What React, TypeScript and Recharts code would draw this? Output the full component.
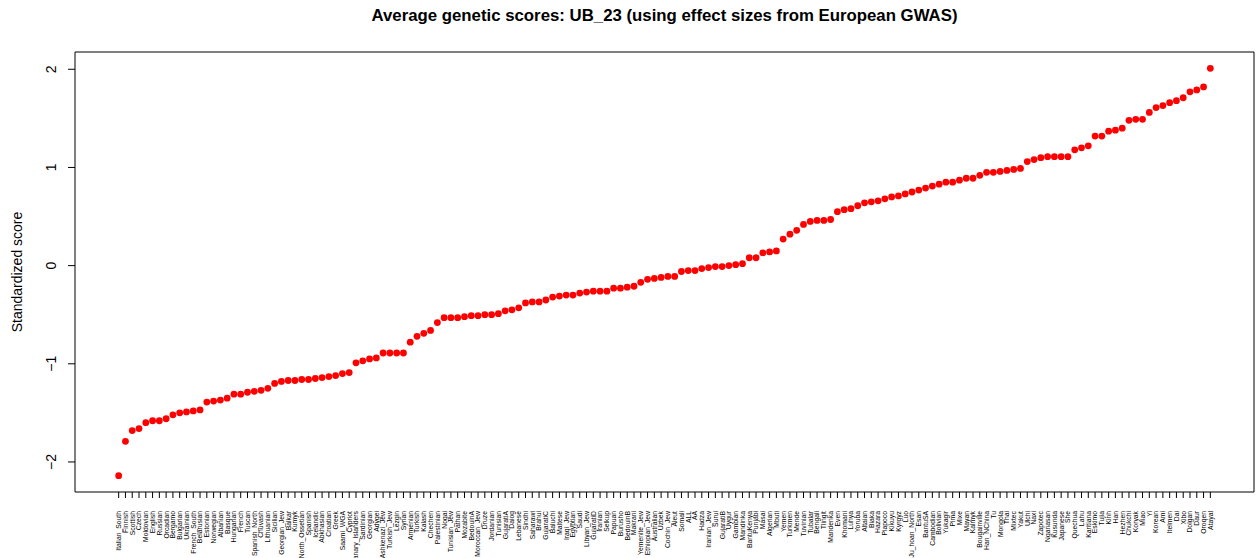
import React from 'react';
import { ScatterChart, Scatter, XAxis, YAxis, ReferenceArea } from 'recharts';

// population order as on the x axis (sorted by score)
const populations = [
  'Italian_South', 'Finnish', 'Scottish', 'Czech', 'Moldovian', 'English', 'Russian', 'Orcadian', 'Bergamo', 'Bulgarian',
  'Ukrainian', 'French_South', 'Belarusian', 'Estonian', 'Norwegian', 'Albanian', 'Basque', 'Hungarian', 'French', 'Tuscan',
  'Spanish_North', 'Chuvash', 'Lithuanian', 'Sicilian', 'Georgian_Jew', 'Balkar', 'Kumyk', 'North_Ossetian', 'Spanish', 'Icelandic',
  'Abkhasian', 'Croatian', 'Greek', 'Saami_WGA', 'Cypriot', 'Canary_Islanders', 'Sardinian', 'Georgian', 'Adygei', 'Ashkenazi_Jew',
  'Turkish_Jew', 'Lezgin', 'Syrian', 'Armenian', 'Turkish', 'Kalash', 'Chechen', 'Palestinian', 'Nogai', 'Tunisian_Jew',
  'Pathan', 'Mozabite', 'BedouinA', 'Moroccan_Jew', 'Druze', 'Jordanian', 'Tunisian', 'GujaratiA', 'Daiog', 'Lebanese',
  'Sindhi', 'Saharawi', 'Brahui', 'GujaratiC', 'Baluchi', 'Maltese', 'Iraqi_Jew', 'Egyptian', 'Saudi', 'Libyan_Jew',
  'GujaratiD', 'Iranian', 'Selkup', 'Papuan', 'Burusho', 'BedouinB', 'Makrani', 'Yemenite_Jew', 'Ethiopian_Jew', 'Australian',
  'Uzbek', 'Cochin_Jew', 'Aleut', 'Somali', 'ALL', 'AA', 'Hadza', 'Iranian_Jew', 'Surui', 'GujaratiB',
  'Uygur', 'Gambian', 'Mandinka', 'BantuKenya', 'Punjabi', 'Masai', 'Algerian', 'Mbuti', 'Yemen', 'Turkmen',
  'Mende', 'Tuvinian', 'Tubalar', 'Bengali', 'Tlingit', 'Mandenka', 'Even', 'Khomani', 'Luhya', 'Yoruba',
  'Altaian', 'Biaka', 'Hazara', 'Piapoco', 'Kikuyu', 'Kyrgyz', 'Luo', 'Ju_hoan_North', 'Esan', 'BantuSA',
  'Cambodian', 'Bolivian', 'Yukagir', 'Pima', 'Mixe', 'Mayan', 'Kalmyk', 'Bougainville', 'Han_NChina', 'Tu',
  'Mongola', 'Thai', 'Mixtec', 'Yakut', 'Ulchi', 'Naxi', 'Zapotec', 'Nganasan', 'Kusunda', 'Japanese',
  'She', 'Quechua', 'Lahu', 'Karitiana', 'Eskimo', 'Tujia', 'Kinh', 'Han', 'Hezhen', 'Chukchi',
  'Koryak', 'Miao', 'Yi', 'Korean', 'Ami', 'Itelmen', 'Dai', 'Xibo', 'Dolgan', 'Daur',
  'Oroqen', 'Atayal',
];

const scores = [
  -2.14, -1.79, -1.68, -1.66, -1.60, -1.58, -1.58, -1.56, -1.52, -1.50,
  -1.49, -1.48, -1.47, -1.39, -1.38, -1.37, -1.35, -1.31, -1.31, -1.29,
  -1.28, -1.27, -1.25, -1.20, -1.18, -1.17, -1.17, -1.16, -1.16, -1.15,
  -1.14, -1.13, -1.12, -1.10, -1.09, -0.99, -0.97, -0.95, -0.94, -0.89,
  -0.89, -0.89, -0.89, -0.78, -0.72, -0.69, -0.66, -0.58, -0.53, -0.53,
  -0.53, -0.52, -0.51, -0.51, -0.50, -0.50, -0.49, -0.46, -0.45, -0.43,
  -0.38, -0.37, -0.37, -0.35, -0.32, -0.31, -0.30, -0.30, -0.28, -0.27,
  -0.26, -0.26, -0.26, -0.23, -0.23, -0.22, -0.21, -0.17, -0.14, -0.13,
  -0.12, -0.11, -0.11, -0.06, -0.05, -0.05, -0.03, -0.02, -0.01, -0.01,
  0.00, 0.01, 0.02, 0.08, 0.08, 0.13, 0.14, 0.15, 0.27, 0.32,
  0.36, 0.42, 0.45, 0.46, 0.46, 0.47, 0.55, 0.57, 0.58, 0.61,
  0.64, 0.65, 0.66, 0.68, 0.70, 0.71, 0.73, 0.75, 0.77, 0.79,
  0.81, 0.83, 0.85, 0.85, 0.87, 0.89, 0.89, 0.92, 0.95, 0.95,
  0.96, 0.97, 0.98, 0.99, 1.06, 1.08, 1.10, 1.11, 1.11, 1.11,
  1.11, 1.18, 1.20, 1.22, 1.32, 1.32, 1.37, 1.38, 1.40, 1.48,
  1.49, 1.49, 1.56, 1.61, 1.63, 1.66, 1.68, 1.71, 1.77, 1.79,
  1.82, 2.01,
];

const yTicks = [-2, -1, 0, 1, 2];

const data = populations.map((name, i) => ({ idx: i + 1, score: scores[i], name }));

// R-style 4% padding on both axes
const n = populations.length;
const xPad = (n - 1) * 0.04;
const xDomain = [1 - xPad, n + xPad];
const yMin = Math.min(...scores);
const yMax = Math.max(...scores);
const yPad = (yMax - yMin) * 0.04;
const yDomain = [yMin - yPad, yMax + yPad];
const xTicks = data.map(d => d.idx);

const FONT = '"Liberation Sans", Arial, Helvetica, sans-serif';

const PopTick = (props: any) => {
  const { x, y, payload } = props;
  const name = populations[payload.value - 1];
  const ty = y + 11;
  return (
    <text
      x={x}
      y={ty}
      dy="0.35em"
      transform={`rotate(-90, ${x}, ${ty})`}
      textAnchor="end"
      fontSize={6.8}
      fontFamily={FONT}
      fill="#000"
    >
      {name}
    </text>
  );
};

const ScoreTick = (props: any) => {
  const { x, y, payload } = props;
  const tx = x - 10;
  const label = payload.value < 0 ? `\u2212${Math.abs(payload.value)}` : `${payload.value}`;
  return (
    <text
      x={tx}
      y={y}
      transform={`rotate(-90, ${tx}, ${y})`}
      textAnchor="middle"
      fontSize={14}
      fontFamily={FONT}
      fill="#000"
    >
      {label}
    </text>
  );
};

const RedDot = (props: any) => <circle cx={props.cx} cy={props.cy} r={3.4} fill="#ff0000" />;

export default function App() {
  return (
    <div style={{ position: 'absolute', left: 0, top: 0, width: 1256, height: 558, background: '#fff', fontFamily: FONT }}>
      <div
        style={{
          position: 'absolute',
          left: 75,
          width: 1179,
          top: 6,
          textAlign: 'center',
          fontWeight: 'bold',
          fontSize: 16.8,
          color: '#000',
        }}
      >
        Average genetic scores: UB_23 (using effect sizes from European GWAS)
      </div>
      <ScatterChart width={1256} height={558} margin={{ top: 52, right: 2, bottom: 0, left: 0 }}>
        <XAxis
          type="number"
          dataKey="idx"
          domain={xDomain}
          ticks={xTicks}
          interval={0}
          height={66}
          axisLine={false}
          tickLine={{ stroke: '#000' }}
          tickSize={6}
          tick={<PopTick />}
          allowDataOverflow
        />
        <YAxis
          type="number"
          dataKey="score"
          domain={yDomain}
          ticks={yTicks}
          width={75}
          axisLine={false}
          tickLine={{ stroke: '#000' }}
          tickSize={7}
          tick={<ScoreTick />}
          allowDataOverflow
          label={({ viewBox }: any) => (
            <text
              x={22}
              y={viewBox.y + viewBox.height / 2}
              transform={`rotate(-90, 22, ${viewBox.y + viewBox.height / 2})`}
              textAnchor="middle"
              fontSize={14}
              fontFamily={FONT}
              fill="#000"
            >
              Standardized score
            </text>
          )}
        />
        <ReferenceArea
          x1={xDomain[0]}
          x2={xDomain[1]}
          y1={yDomain[0]}
          y2={yDomain[1]}
          fill="none"
          stroke="#000"
          strokeWidth={1}
          ifOverflow="visible"
        />
        <Scatter data={data} shape={<RedDot />} isAnimationActive={false} />
      </ScatterChart>
    </div>
  );
}
